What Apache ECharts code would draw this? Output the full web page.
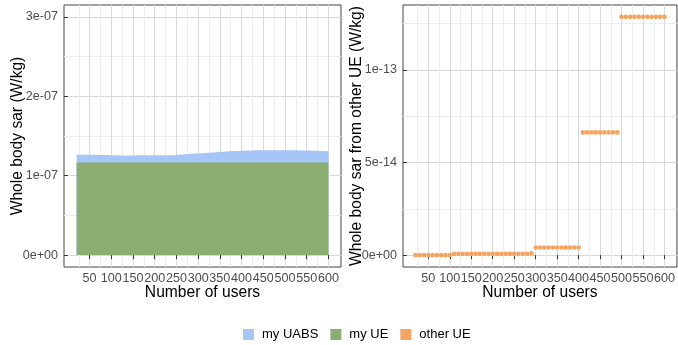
<!DOCTYPE html>
<html>
<head>
<meta charset="utf-8">
<script src="https://cdn.jsdelivr.net/npm/echarts@6/dist/echarts.min.js"></script>
<style>
  html, body { margin: 0; padding: 0; background: #fff; }
  #chart { width: 678px; height: 345px; }
</style>
</head>
<body>
<div id="chart"></div>
<script>
// Left panel: whole body SAR (my UE at the bottom, my UABS stacked on top)
const areaUsers = [20, 50, 100, 150, 200, 250, 300, 350, 400, 450, 500, 550, 600];
const myUE   = [1.167e-7, 1.167e-7, 1.167e-7, 1.167e-7, 1.167e-7, 1.167e-7, 1.167e-7,
                1.167e-7, 1.167e-7, 1.167e-7, 1.167e-7, 1.167e-7, 1.167e-7];
const myUABS = [1.00e-8, 0.96e-8, 0.91e-8, 0.88e-8, 0.89e-8, 0.95e-8, 1.15e-8,
                1.33e-8, 1.47e-8, 1.53e-8, 1.55e-8, 1.51e-8, 1.42e-8];

// Right panel: SAR caused by other UEs
const otherUsers = [20, 30, 40, 50, 60, 70, 80, 90, 100,
  110, 120, 130, 140, 150, 160, 170, 180, 190, 200, 210, 220, 230, 240, 250, 260, 270, 280, 290,
  300, 310, 320, 330, 340, 350, 360, 370, 380, 390, 400,
  410, 420, 430, 440, 450, 460, 470, 480, 490,
  500, 510, 520, 530, 540, 550, 560, 570, 580, 590, 600];
const otherUE = [0, 0, 0, 0, 0, 0, 0, 0, 0,
  7e-16, 7e-16, 7e-16, 7e-16, 7e-16, 7e-16, 7e-16, 7e-16, 7e-16, 7e-16,
  7e-16, 7e-16, 7e-16, 7e-16, 7e-16, 7e-16, 7e-16, 7e-16, 1.0e-15,
  4.1e-15, 4.1e-15, 4.1e-15, 4.1e-15, 4.1e-15, 4.1e-15, 4.1e-15, 4.1e-15, 4.1e-15, 4.1e-15, 4.1e-15,
  6.63e-14, 6.63e-14, 6.63e-14, 6.63e-14, 6.63e-14, 6.63e-14, 6.63e-14, 6.63e-14, 6.63e-14,
  1.287e-13, 1.287e-13, 1.287e-13, 1.287e-13, 1.287e-13, 1.287e-13,
  1.287e-13, 1.287e-13, 1.287e-13, 1.287e-13, 1.287e-13];

// Axis breaks
const xBreaks      = [50, 100, 150, 200, 250, 300, 350, 400, 450, 500, 550, 600];
const xMinorBreaks = [25, 75, 125, 175, 225, 275, 325, 375, 425, 475, 525, 575];
const leftYBreaks      = [0, 1e-7, 2e-7, 3e-7];
const leftYMinorBreaks = [0.5e-7, 1.5e-7, 2.5e-7];
const rightYBreaks      = [0, 5e-14, 1e-13];
const rightYMinorBreaks = [2.5e-14, 7.5e-14, 1.25e-13];

const COLORS = { uabs: '#A7C6F8', ue: '#8DAE72', other: '#F4A460' };
const FONT = '"Liberation Sans", Arial, Helvetica, sans-serif';
const TITLE_SIZE = 15.6;
const TICK_SIZE = 12.6;

// R-style scientific labels: 1e-07, 0e+00
function sci(v) {
  if (v === 0) return '0e+00';
  const e = Math.floor(Math.log10(Math.abs(v)) + 1e-9);
  const m = Math.round(v / Math.pow(10, e) * 10) / 10;
  const sign = e < 0 ? '-' : '+';
  const ee = String(Math.abs(e)).padStart(2, '0');
  return m + 'e' + sign + ee;
}

const xRange = { min: -9, max: 629 };

function majorX(gridIndex) {
  return {
    type: 'value', gridIndex, position: 'bottom', min: xRange.min, max: xRange.max,
    name: 'Number of users', nameLocation: 'middle', nameGap: 18, nameMoveOverlap: false,
    nameTextStyle: { fontFamily: FONT, fontSize: TITLE_SIZE, color: '#000' },
    axisLine: { show: false },
    axisTick: { show: true, customValues: xBreaks, length: 4, lineStyle: { color: '#333' } },
    axisLabel: {
      customValues: xBreaks, margin: 5, showMinLabel: true, showMaxLabel: true, hideOverlap: false,
      fontFamily: FONT, fontSize: TICK_SIZE, color: '#4D4D4D'
    },
    splitLine: { show: true, lineStyle: { color: '#D9D9D9', width: 1 } }
  };
}
function minorX(gridIndex) {
  return {
    type: 'value', gridIndex, position: 'bottom', min: xRange.min, max: xRange.max,
    axisLine: { show: false },
    axisTick: { show: false, customValues: xMinorBreaks },
    axisLabel: { show: false },
    splitLine: { show: true, lineStyle: { color: '#EDEDED', width: 1 } }
  };
}
function majorY(gridIndex, min, max, breaks, name) {
  return {
    type: 'value', gridIndex, position: 'left', min, max,
    name, nameLocation: 'middle', nameGap: 38, nameMoveOverlap: false,
    nameTextStyle: { fontFamily: FONT, fontSize: TITLE_SIZE, color: '#000' },
    axisLine: { show: false },
    axisTick: { show: true, customValues: breaks, length: 4, lineStyle: { color: '#333' } },
    axisLabel: { customValues: breaks, margin: 6, fontFamily: FONT, fontSize: TICK_SIZE, color: '#4D4D4D', formatter: sci },
    splitLine: { show: true, lineStyle: { color: '#D9D9D9', width: 1 } }
  };
}
function minorY(gridIndex, min, max, breaks) {
  return {
    type: 'value', gridIndex, position: 'left', min, max,
    axisLine: { show: false },
    axisTick: { show: false, customValues: breaks },
    axisLabel: { show: false },
    splitLine: { show: true, lineStyle: { color: '#EDEDED', width: 1 } }
  };
}

const leftY = { min: -1.5e-8, max: 3.15e-7 };
const rightY = { min: -6.4e-15, max: 1.351e-13 };

// Top edge of the stacked area = my UE + my UABS
const sarTotal = myUE.map((v, i) => v + myUABS[i]);

const chart = echarts.init(document.getElementById('chart'), null, { renderer: 'canvas' });
chart.setOption({
  animation: false,
  backgroundColor: '#fff',
  textStyle: { fontFamily: FONT },
  grid: [
    { left: 64, top: 5, width: 277, height: 262, show: true, borderColor: '#444', borderWidth: 1, backgroundColor: 'transparent' },
    { left: 403, top: 5, width: 274, height: 262, show: true, borderColor: '#444', borderWidth: 1, backgroundColor: 'transparent' }
  ],
  xAxis: [minorX(0), majorX(0), minorX(1), majorX(1)],
  yAxis: [
    minorY(0, leftY.min, leftY.max, leftYMinorBreaks),
    majorY(0, leftY.min, leftY.max, leftYBreaks, 'Whole body sar (W/kg)'),
    minorY(1, rightY.min, rightY.max, rightYMinorBreaks),
    majorY(1, rightY.min, rightY.max, rightYBreaks, 'Whole body sar from other UE (W/kg)')
  ],
  legend: {
    top: 323, left: 238,
    icon: 'rect', itemWidth: 11, itemHeight: 11, itemGap: 12,
    textStyle: { fontFamily: FONT, fontSize: 13, color: '#000', padding: [0, 0, 0, 3] },
    data: ['my UABS', 'my UE', 'other UE']
  },
  series: [
    {
      name: 'my UABS', type: 'line', xAxisIndex: 1, yAxisIndex: 1,
      data: areaUsers.map((x, i) => [x, sarTotal[i]]),
      smooth: 0.5, showSymbol: false, symbol: 'none',
      lineStyle: { width: 0 }, itemStyle: { color: COLORS.uabs },
      areaStyle: { color: COLORS.uabs, opacity: 1, origin: 0 }
    },
    {
      name: 'my UE', type: 'line', xAxisIndex: 1, yAxisIndex: 1,
      data: areaUsers.map((x, i) => [x, myUE[i]]),
      showSymbol: false, symbol: 'none',
      lineStyle: { width: 0 }, itemStyle: { color: COLORS.ue },
      areaStyle: { color: COLORS.ue, opacity: 1, origin: 0 }
    },
    {
      name: 'other UE', type: 'scatter', xAxisIndex: 3, yAxisIndex: 3,
      data: otherUsers.map((x, i) => [x, otherUE[i]]),
      symbolSize: 4.6, itemStyle: { color: COLORS.other, opacity: 1 }
    }
  ]
});
</script>
</body>
</html>
